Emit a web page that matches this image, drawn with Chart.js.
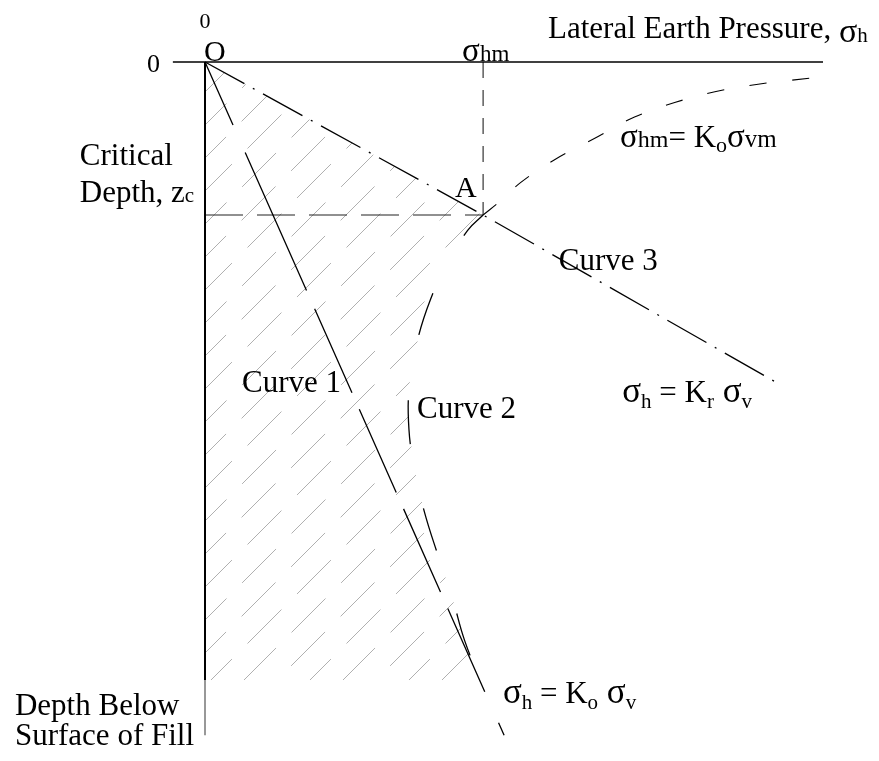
<!DOCTYPE html>
<html>
<head>
<meta charset="utf-8">
<script src="https://cdn.jsdelivr.net/npm/chart.js@4.4.1/dist/chart.umd.min.js"></script>
<style>
  html, body { margin: 0; padding: 0; background: #fff; }
  #wrap { width: 879px; height: 761px; }
</style>
</head>
<body>
<div id="wrap"><canvas id="chart" width="879" height="761"></canvas></div>
<script>
// Lateral earth pressure (horizontal axis) against depth below the fill surface.
// Units are arbitrary: pressure along x, depth z increasing downward.
const ZC = 10;          // critical depth z_c
const SIGMA_HM = 9;     // peak lateral pressure sigma_hm, reached at z_c (point A)

const surfaceLine   = [[-1.04, 0], [20, 0]];
const depthAxis     = [[0, 0], [0, 40.4]];
const depthAxisTail = [[0, 40.4], [0, 44]];

// Curve 3: sigma_h = Kr sigma_v
const curve3 = [[0, 0], [SIGMA_HM, ZC], [18.45, 20.9]];
// Curve 1: sigma_h = Ko sigma_v
const curve1 = [[0, 0], [9.68, 44]];
// Curve 2: pressure after compaction, leaving A and joining curve 1 at depth
const curve2 = [[9, 10], [8.5, 11], [7.8, 13.3], [7.3, 15.5], [6.9, 18], [6.62, 21],
                [6.6, 24], [6.8, 26.8], [7.1, 29.4], [7.5, 32], [8.0, 35], [8.4, 37.8], [9.06, 41.18]];
// Locus of peak pressures: sigma_hm = Ko sigma_vm
const peakLocus = [[9, 10], [9.55, 9.1], [10.2, 7.9], [11.3, 6.4], [12.6, 5.0], [13.9, 3.6],
                   [15.2, 2.65], [16.5, 1.95], [17.9, 1.45], [19.6, 1.05]];
// Guides from point A back to both axes
const guideDepth    = [[0, ZC], [SIGMA_HM, ZC]];
const guidePressure = [[SIGMA_HM, 0], [SIGMA_HM, ZC]];
// Hatched zone closes along curve 1 at this depth
const hatchBottom = 40.4;
const hatchCorner = [8.89, hatchBottom];

// Text: [x, z, runs of [text, font size, baseline shift]], optional centring
const labels = [
  { x: 0,     z: -2.22, center: true, runs: [['0', 22, 0]] },
  { x: -1.88, z: 0.65,  runs: [['0', 26, 0]] },
  { x: -0.03, z: -0.07, runs: [['O', 30, 0]] },
  { x: 8.32,  z: -0.07, runs: [['σ', 33, 0], ['hm', 23, 0]] },
  { x: 11.1,  z: -1.57, runs: [['Lateral Earth Pressure, ', 31, 0], ['σ', 34, 4], ['h', 21, 4]] },
  { x: 8.09,  z: 8.82,  runs: [['A', 30, 0]] },
  { x: 13.43, z: 5.56,  runs: [['σ', 33, 0], ['hm', 24, 0], ['= K', 31, 0], ['o', 22, 5], ['σ', 33, 0], ['vm', 25, 0]] },
  { x: -4.05, z: 6.73,  runs: [['Critical', 31, 0]] },
  { x: -4.05, z: 9.15,  runs: [['Depth, z', 31, 0], ['c', 21, 0]] },
  { x: 11.45, z: 13.6,  runs: [['Curve 3', 31, 0]] },
  { x: 1.2,   z: 21.57, runs: [['Curve 1', 31, 0]] },
  { x: 6.86,  z: 23.27, runs: [['Curve 2', 31, 0]] },
  { x: 13.5,  z: 22.2,  runs: [['σ', 35, 0], ['h', 21, 6], [' = K', 31, 0], ['r', 21, 6], [' σ', 35, 0], ['v', 21, 6]] },
  { x: 9.64,  z: 41.9,  runs: [['σ', 35, 0], ['h', 21, 6], [' = K', 31, 0], ['o', 21, 6], [' σ', 35, 0], ['v', 21, 6]] },
  { x: -6.15, z: 42.68, runs: [['Depth Below', 31, 0]] },
  { x: -6.15, z: 44.64, runs: [['Surface of Fill', 31, 0]] }
];

const FONT = '"Liberation Serif", "Times New Roman", serif';
const pts = arr => arr.map(([x, y]) => ({ x, y }));

// Dashed 45-degree hatching used to fill the shaded zone
function hatchPattern(ctx) {
  const T = 99, spacing = 33, period = 70, dash = 48, phases = [0, 31, 55];
  const c = document.createElement('canvas');
  c.width = T; c.height = T;
  const g = c.getContext('2d');
  g.strokeStyle = '#b0b0b0';
  g.lineWidth = 1;
  const r2 = Math.SQRT2;
  for (let k = -2; k <= 8; k++) {
    const ph = phases[((k % 3) + 3) % 3];
    for (let m = -3; m <= 4; m++) {
      const s0 = period * m - ph, s1 = s0 + dash;
      g.beginPath();
      g.moveTo((spacing * k + s0 * r2) / 2, (spacing * k - s0 * r2) / 2);
      g.lineTo((spacing * k + s1 * r2) / 2, (spacing * k - s1 * r2) / 2);
      g.stroke();
    }
  }
  return ctx.createPattern(c, 'repeat');
}

const hatchZone = [...curve3.slice(0, 2), ...curve2.slice(1, 12), hatchCorner, [0, hatchBottom], [0, 0]];

const canvas = document.getElementById('chart');
const ctx2d = canvas.getContext('2d');

function lineSet(data, opts) {
  return Object.assign({
    data: pts(data), borderColor: '#000', borderWidth: 1.3, pointRadius: 0,
    fill: false, tension: 0, clip: false
  }, opts);
}

const labelPlugin = {
  id: 'diagramLabels',
  afterDatasetsDraw(chart) {
    const { ctx, scales } = chart;
    ctx.save();
    ctx.fillStyle = '#000';
    ctx.textBaseline = 'alphabetic';
    for (const L of labels) {
      let px = scales.x.getPixelForValue(L.x);
      const py = scales.y.getPixelForValue(L.z);
      if (L.center) {
        let w = 0;
        for (const [t, s] of L.runs) { ctx.font = `${s}px ${FONT}`; w += ctx.measureText(t).width; }
        px -= w / 2;
      }
      for (const [t, s, dy] of L.runs) {
        ctx.font = `${s}px ${FONT}`;
        ctx.fillText(t, px, py + dy);
        px += ctx.measureText(t).width;
      }
    }
    ctx.restore();
  }
};

new Chart(ctx2d, {
  type: 'line',
  data: {
    datasets: [
      lineSet(surfaceLine, { borderWidth: 1.5 }),
      lineSet(depthAxis, { borderWidth: 2 }),
      lineSet(depthAxisTail, { borderWidth: 1.5, borderColor: '#777' }),
      lineSet(curve3, { borderDash: [45, 9.6, 2, 9.6] }),
      lineSet(curve1, { borderDash: [69, 30, 151, 20, 92, 18, 91, 18, 91, 18, 91, 34, 14, 60] }),
      lineSet(curve2, { borderDash: [44, 66], borderDashOffset: 16, tension: 0.4 }),
      lineSet(peakLocus, { borderDash: [17, 26], tension: 0.4, borderWidth: 1.1 }),
      lineSet(guideDepth, { borderDash: [38, 14], borderWidth: 1.1, borderColor: '#222' }),
      lineSet(guidePressure, { borderDash: [16, 12], borderWidth: 1.1, borderColor: '#222' }),
      lineSet(hatchZone, { borderWidth: 0, borderColor: 'rgba(0,0,0,0)', fill: 'shape', backgroundColor: hatchPattern(ctx2d) })
    ]
  },
  options: {
    responsive: false,
    animation: false,
    events: [],
    layout: { padding: { left: 143.2, right: 56, top: 31.4, bottom: 10.5 } },
    scales: {
      x: { type: 'linear', min: -2, max: 20, display: false },
      y: { type: 'linear', min: -2, max: 45, reverse: true, display: false }
    },
    plugins: {
      legend: { display: false },
      tooltip: { enabled: false },
      filler: { drawTime: 'beforeDatasetsDraw' }
    }
  },
  plugins: [labelPlugin]
});
</script>
</body>
</html>
